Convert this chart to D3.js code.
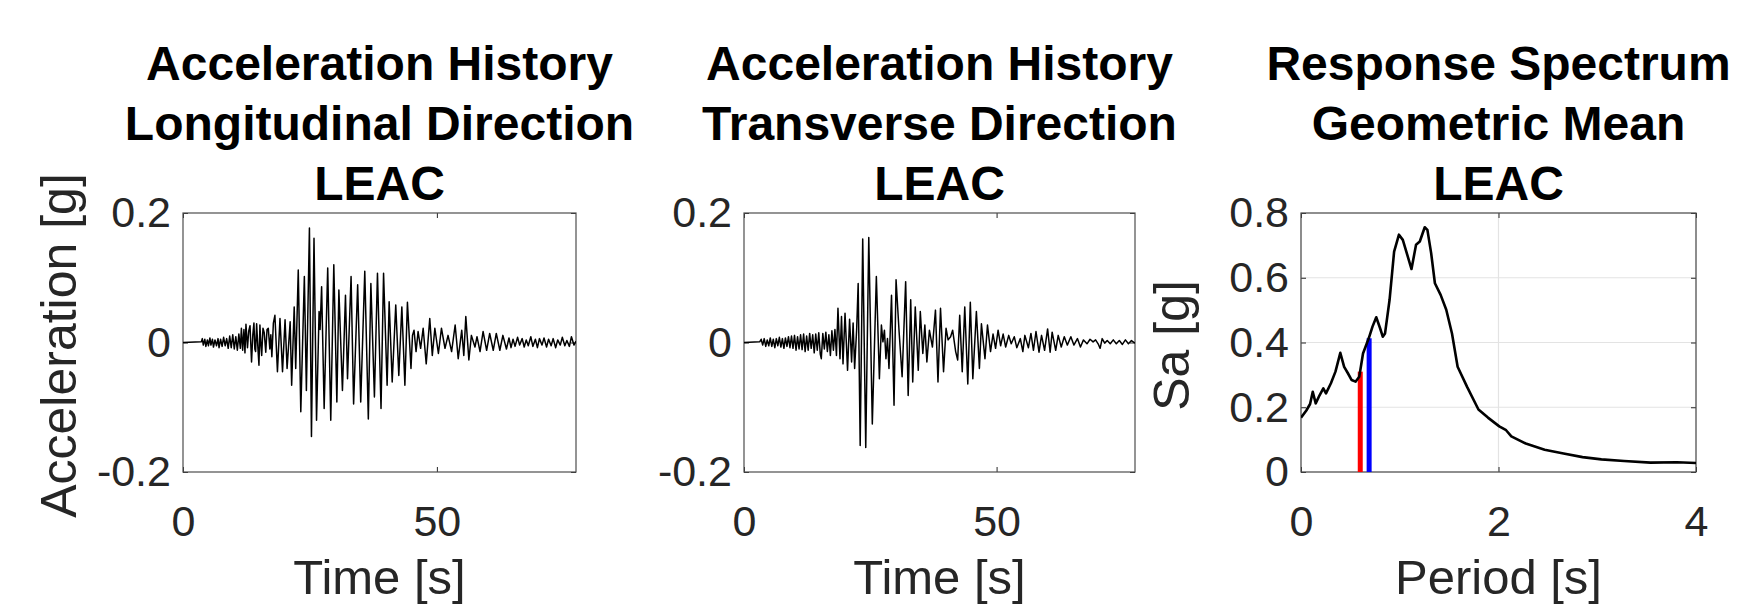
<!DOCTYPE html>
<html>
<head>
<meta charset="utf-8">
<script src="https://cdn.jsdelivr.net/npm/d3@7"></script>
<style>
body { margin: 0; background: #fff; }
text { font-family: "Liberation Sans", Arial, Helvetica, sans-serif; }
</style>
</head>
<body>
<div id="chart-area"></div>
<script>
var width = 1741,
    height = 608;

// titles and labels
var titles = [
    ["Acceleration History", "Longitudinal Direction", "LEAC"],
    ["Acceleration History", "Transverse Direction", "LEAC"],
    ["Response Spectrum", "Geometric Mean", "LEAC"]
];
var xLabels = ["Time [s]", "Time [s]", "Period [s]"];
var yLabels = ["Acceleration [g]", "", "Sa [g]"];

// ticks
var timeTicks = [0, 50];
var accTicks = [-0.2, 0, 0.2];
var periodTicks = [0, 2, 4];
var saTicks = [0, 0.2, 0.4, 0.6, 0.8];

// longitudinal record [time s, acc g]
var accLong = [
    [0, 0], [3.6, 0.001],
    [3.8, 0.006], [4.0, -0.004], [4.3, 0.005], [4.5, -0.006], [4.8, 0.004], [5.0, -0.005], [5.3, 0.007], [5.5, -0.004],
    [5.8, 0.005], [6.0, -0.007], [6.3, 0.004], [6.6, -0.005], [6.9, 0.006], [7.1, -0.008], [7.4, 0.005], [7.7, -0.006],
    [8.0, 0.008], [8.3, -0.005], [8.6, 0.006], [8.9, -0.009], [9.2, 0.01], [9.5, -0.008], [9.8, 0.012], [10.1, -0.01],
    [10.4, 0.009], [10.7, -0.012], [11.0, 0.013], [11.3, -0.009],
    [11.5, 0.022], [11.75, -0.012], [12.0, 0.02], [12.2, -0.016], [12.4, 0.028], [12.7, -0.008], [12.95, 0.018],
    [13.2, 0.026], [13.5, -0.03], [13.75, 0.012], [13.97, 0.03], [14.15, -0.01], [14.3, -0.014], [14.5, 0.029],
    [14.75, -0.008], [14.96, -0.035], [15.15, 0.027], [15.35, -0.005], [15.5, -0.02], [15.75, 0.022], [16.0, 0.015],
    [16.3, -0.015], [16.55, 0.02], [16.8, 0.022], [17.1, -0.01], [17.3, 0.012], [17.5, -0.022], [17.8, 0.03],
    [18.1, 0.042], [18.6, -0.045], [19.1, 0.037], [19.6, -0.045], [20.1, 0.035], [20.5, -0.04], [21.1, 0.032],
    [21.4, -0.066], [21.9, 0.055], [22.2, -0.04], [22.7, 0.112], [23.2, -0.107], [23.9, 0.102], [24.3, -0.074],
    [24.9, 0.177], [25.3, -0.145], [25.8, 0.161], [26.3, -0.12], [26.8, 0.048], [27.0, 0.02], [27.3, 0.086],
    [27.8, -0.102], [28.5, 0.115], [29.1, -0.12], [29.7, 0.12], [30.3, -0.092], [30.7, 0.081], [31.4, -0.074],
    [32.0, 0.073], [32.4, -0.056], [33.1, 0.102], [33.6, -0.095], [34.4, 0.089], [35.0, -0.092], [35.8, 0.11],
    [36.5, -0.118], [37.0, 0.091], [37.7, -0.084], [38.3, 0.107], [39.0, -0.102], [39.5, 0.107], [40.2, -0.066],
    [40.6, 0.063], [41.2, -0.061], [41.9, 0.058], [42.5, -0.051], [43.1, 0.055], [43.7, -0.066], [44.2, 0.062],
    [44.9, -0.04], [45.2, 0.011], [45.5, 0.019], [45.9, -0.014], [46.3, 0.017], [46.8, -0.009], [47.3, 0.022],
    [47.9, -0.033], [48.6, 0.037], [49.1, -0.02], [49.6, 0.022], [50.3, -0.017], [50.9, 0.022], [51.6, -0.009],
    [52.2, 0.011], [52.9, -0.014], [53.6, 0.027], [54.2, -0.025], [54.9, 0.019], [55.3, -0.02], [55.7, 0.04],
    [56.3, -0.027], [56.8, 0.011], [57.5, -0.007], [57.9, 0.009], [58.5, -0.014], [59.1, 0.017], [59.8, -0.012],
    [60.4, 0.014], [61.1, -0.012], [61.7, 0.014], [62.4, -0.012], [63.0, 0.011], [63.7, -0.01], [64.2, 0.007],
    [64.6, -0.008], [65.0, 0.005], [65.4, -0.006], [65.9, 0.008], [66.3, -0.004], [66.8, 0.006], [67.2, -0.007],
    [67.6, 0.004], [68.0, -0.005], [68.5, 0.009], [68.9, -0.006], [69.4, 0.005], [69.8, -0.008], [70.2, 0.006],
    [70.7, -0.004], [71.1, 0.007], [71.6, -0.007], [72.0, 0.005], [72.5, -0.005], [72.9, 0.006], [73.4, -0.008],
    [73.8, 0.004], [74.3, -0.004], [74.7, 0.008], [75.2, -0.005], [75.6, 0.003], [76.1, -0.006], [76.5, 0.009],
    [77.0, -0.004], [77.4, 0.002]
];

// transverse record [time s, acc g]
var accTrans = [
    [0, 0], [3.1, 0.001],
    [3.4, 0.005], [3.7, -0.004], [4.0, 0.006], [4.3, -0.006], [4.6, 0.004], [4.9, -0.005], [5.2, 0.007], [5.5, -0.006],
    [5.8, 0.005], [6.1, -0.008], [6.4, 0.006], [6.7, -0.005], [7.0, 0.008], [7.3, -0.007], [7.6, 0.006], [7.9, -0.009],
    [8.2, 0.007], [8.5, -0.006], [8.8, 0.009], [9.1, -0.008], [9.4, 0.01], [9.7, -0.009], [10.0, 0.011], [10.3, -0.012],
    [10.6, 0.009], [10.9, -0.01], [11.2, 0.012], [11.5, -0.011], [11.8, 0.013], [12.1, -0.014], [12.4, 0.01],
    [12.7, -0.012], [13.0, 0.014], [13.3, -0.009], [13.6, 0.012], [13.9, -0.016], [14.2, 0.013], [14.5, -0.012],
    [14.8, 0.015], [15.1, -0.018], [15.3, -0.025], [15.6, 0.014], [15.9, -0.01], [16.2, 0.016], [16.5, -0.014],
    [16.8, 0.012], [17.1, -0.02], [17.4, 0.018], [17.7, -0.012],
    [18.0, 0.02], [18.3, -0.02], [18.6, 0.053], [19.0, -0.025], [19.3, 0.04], [19.6, -0.033], [20.0, 0.045],
    [20.5, -0.043], [20.9, 0.036], [21.3, -0.03], [21.6, 0.03], [21.9, -0.04], [22.3, 0.02], [22.6, 0.091],
    [23.0, -0.159], [23.5, 0.16], [24.1, -0.162], [24.7, 0.162], [25.4, -0.126], [26.2, 0.102], [26.8, -0.056],
    [27.2, 0.027], [27.5, 0.001], [27.8, 0.019], [28.1, -0.025], [28.4, 0.006], [28.7, -0.04], [29.2, 0.073],
    [29.7, -0.097], [30.1, 0.097], [30.7, 0.017], [31.3, -0.053], [32.0, 0.094], [32.5, -0.082], [33.0, 0.066],
    [33.4, -0.061], [33.9, 0.055], [34.5, -0.043], [34.9, 0.048], [35.4, -0.017], [35.8, 0.027], [36.2, -0.03],
    [36.7, 0.019], [37.3, -0.007], [37.9, 0.05], [38.4, -0.061], [38.9, 0.053], [39.5, -0.045], [40.0, 0.022],
    [40.4, 0.004], [40.9, 0.009], [41.3, 0.019], [41.9, -0.014], [42.3, -0.027], [42.7, 0.042], [43.2, -0.045],
    [43.7, 0.055], [44.3, -0.064], [44.8, 0.062], [45.3, -0.056], [46.0, 0.048], [46.6, -0.04], [47.0, 0.029],
    [47.7, -0.025], [48.2, 0.027], [48.8, -0.014], [49.3, 0.013], [49.8, -0.009], [50.3, 0.019], [50.8, -0.005],
    [51.3, 0.013], [51.8, -0.007], [52.4, 0.011], [52.9, -0.002], [53.5, 0.009], [54.0, -0.008], [54.7, 0.006],
    [55.2, -0.014], [55.6, 0.011], [56.3, -0.008], [56.8, 0.014], [57.3, -0.012], [57.8, 0.017], [58.4, -0.015],
    [58.9, 0.011], [59.5, -0.012], [60.1, 0.021], [60.6, -0.015], [61.0, 0.016], [61.7, -0.012], [62.2, 0.011],
    [62.8, -0.007], [63.4, 0.009], [64.0, -0.004], [64.7, 0.009], [65.3, -0.004], [66.0, 0.006], [66.6, -0.007],
    [67.2, 0.004], [67.9, -0.002], [68.5, 0.005], [69.1, 0.001], [69.6, 0.004], [70.1, -0.002], [70.5, -0.009],
    [70.9, 0.006], [71.4, -0.001], [71.9, 0.003], [72.5, -0.002], [73.1, 0.004], [73.7, -0.002], [74.3, 0.003],
    [74.9, -0.003], [75.5, 0.004], [76.1, -0.002], [76.7, 0.003], [77.4, -0.001]
];

// geometric mean response spectrum
var specPeriod = [0, 0.054, 0.092, 0.119, 0.149, 0.188, 0.226, 0.253, 0.303, 0.349, 0.398, 0.437, 0.475, 0.513,
    0.552, 0.59, 0.628, 0.686, 0.724, 0.762, 0.801, 0.828, 0.851, 0.897, 0.943, 0.992, 1.031, 1.119, 1.165, 1.203,
    1.253, 1.28, 1.318, 1.356, 1.414, 1.471, 1.529, 1.586, 1.682, 1.797, 1.893, 2.008, 2.077, 2.13, 2.276, 2.467,
    2.659, 2.851, 3.042, 3.272, 3.54, 3.808, 4.0];
var specSa = [0.168, 0.19, 0.21, 0.248, 0.212, 0.237, 0.258, 0.243, 0.274, 0.31, 0.368, 0.325, 0.305, 0.284,
    0.279, 0.294, 0.366, 0.413, 0.449, 0.478, 0.444, 0.418, 0.428, 0.532, 0.681, 0.733, 0.717, 0.627, 0.702, 0.712,
    0.756, 0.748, 0.676, 0.583, 0.547, 0.501, 0.428, 0.325, 0.263, 0.193, 0.168, 0.141, 0.129, 0.11, 0.088, 0.069,
    0.057, 0.046, 0.039, 0.034, 0.029, 0.03, 0.028];

// period markers
var markPeriod = [0.6, 0.69];
var markSa = [0.31, 0.413];
var markColor = ["#ff0000", "#0000ff"];

var svg = d3.select("#chart-area").append("svg")
    .attr("width", width)
    .attr("height", height);

var plotTop = 213, plotBottom = 472;
var panelX = [[183, 576], [744, 1135], [1301, 1696]];

var fmt = function(d) { return String(d); };

function makePanel(i, xDomain, yDomain, xTicks, yTicks, grid) {
    var x = d3.scaleLinear().domain(xDomain).range(panelX[i]);
    var y = d3.scaleLinear().domain(yDomain).range([plotBottom, plotTop]);
    var g = svg.append("g");

    if (grid) {
        g.selectAll(".gx").data(xTicks).enter().append("line")
            .attr("x1", d => x(d)).attr("x2", d => x(d))
            .attr("y1", plotTop).attr("y2", plotBottom)
            .style("stroke", "#e3e3e3").style("stroke-width", 1.2);
        g.selectAll(".gy").data(yTicks).enter().append("line")
            .attr("x1", panelX[i][0]).attr("x2", panelX[i][1])
            .attr("y1", d => y(d)).attr("y2", d => y(d))
            .style("stroke", "#e3e3e3").style("stroke-width", 1.2);
    }

    var ax = [
        g.append("g").attr("transform", "translate(0," + plotBottom + ")")
            .call(d3.axisBottom(x).tickValues(xTicks).tickSize(-5).tickPadding(33).tickFormat(fmt)),
        g.append("g").attr("transform", "translate(0," + plotTop + ")")
            .call(d3.axisTop(x).tickValues(xTicks).tickSize(-5).tickFormat("")),
        g.append("g").attr("transform", "translate(" + panelX[i][0] + ",0)")
            .call(d3.axisLeft(y).tickValues(yTicks).tickSize(-5).tickPadding(12).tickFormat(fmt)),
        g.append("g").attr("transform", "translate(" + panelX[i][1] + ",0)")
            .call(d3.axisRight(y).tickValues(yTicks).tickSize(-5).tickFormat(""))
    ];
    ax.forEach(function(a) {
        a.select(".domain").remove();
        a.selectAll("line").style("stroke", "#262626").style("stroke-width", 1);
        a.selectAll("text").style("font-size", "43px").style("fill", "#262626");
    });

    g.append("rect")
        .attr("x", panelX[i][0]).attr("y", plotTop)
        .attr("width", panelX[i][1] - panelX[i][0]).attr("height", plotBottom - plotTop)
        .style("fill", "none").style("stroke", "#4d4d4d").style("stroke-width", 1.2);

    // titles
    var cx = (panelX[i][0] + panelX[i][1]) / 2;
    g.selectAll(".title").data(titles[i]).enter().append("text")
        .attr("x", cx)
        .attr("y", (d, k) => 80 + k * 60)
        .attr("text-anchor", "middle")
        .style("font-size", "48px").style("font-weight", "bold").style("fill", "#000")
        .text(d => d);

    g.append("text")
        .attr("x", cx).attr("y", 594)
        .attr("text-anchor", "middle")
        .style("font-size", "49px").style("fill", "#262626")
        .text(xLabels[i]);

    if (yLabels[i]) {
        var lx = i == 0 ? 76 : 1189;
        g.append("text")
            .attr("transform", "translate(" + lx + "," + ((plotTop + plotBottom) / 2 + 3) + ") rotate(-90)")
            .attr("text-anchor", "middle")
            .style("font-size", "50px").style("fill", "#262626")
            .text(yLabels[i]);
    }

    g.x = x; g.y = y;
    return g;
}

var clip = svg.append("defs");
panelX.forEach(function(p, i) {
    clip.append("clipPath").attr("id", "clip" + i)
        .append("rect").attr("x", p[0]).attr("y", plotTop)
        .attr("width", p[1] - p[0]).attr("height", plotBottom - plotTop);
});

// acceleration histories
[accLong, accTrans].forEach(function(series, i) {
    var p = makePanel(i, [0, 77.4], [-0.2, 0.2], timeTicks, accTicks, false);
    var line = d3.line().x(d => p.x(d[0])).y(d => p.y(d[1]));
    p.append("path")
        .datum(series)
        .attr("clip-path", "url(#clip" + i + ")")
        .attr("d", line)
        .style("fill", "none").style("stroke", "#000").style("stroke-width", 1.5)
        .style("stroke-linejoin", "round");
});

// response spectrum
var p3 = makePanel(2, [0, 4], [0, 0.8], periodTicks, saTicks, true);

p3.selectAll(".mark").data(markPeriod).enter().append("line")
    .attr("x1", d => p3.x(d)).attr("x2", d => p3.x(d))
    .attr("y1", p3.y(0)).attr("y2", (d, k) => p3.y(markSa[k]))
    .style("stroke", (d, k) => markColor[k]).style("stroke-width", 5);

var specLine = d3.line().x(d => p3.x(d)).y((d, k) => p3.y(specSa[k]));
p3.append("path")
    .datum(specPeriod)
    .attr("clip-path", "url(#clip2)")
    .attr("d", specLine)
    .style("fill", "none").style("stroke", "#000").style("stroke-width", 2.6)
    .style("stroke-linejoin", "round");
</script>
</body>
</html>
